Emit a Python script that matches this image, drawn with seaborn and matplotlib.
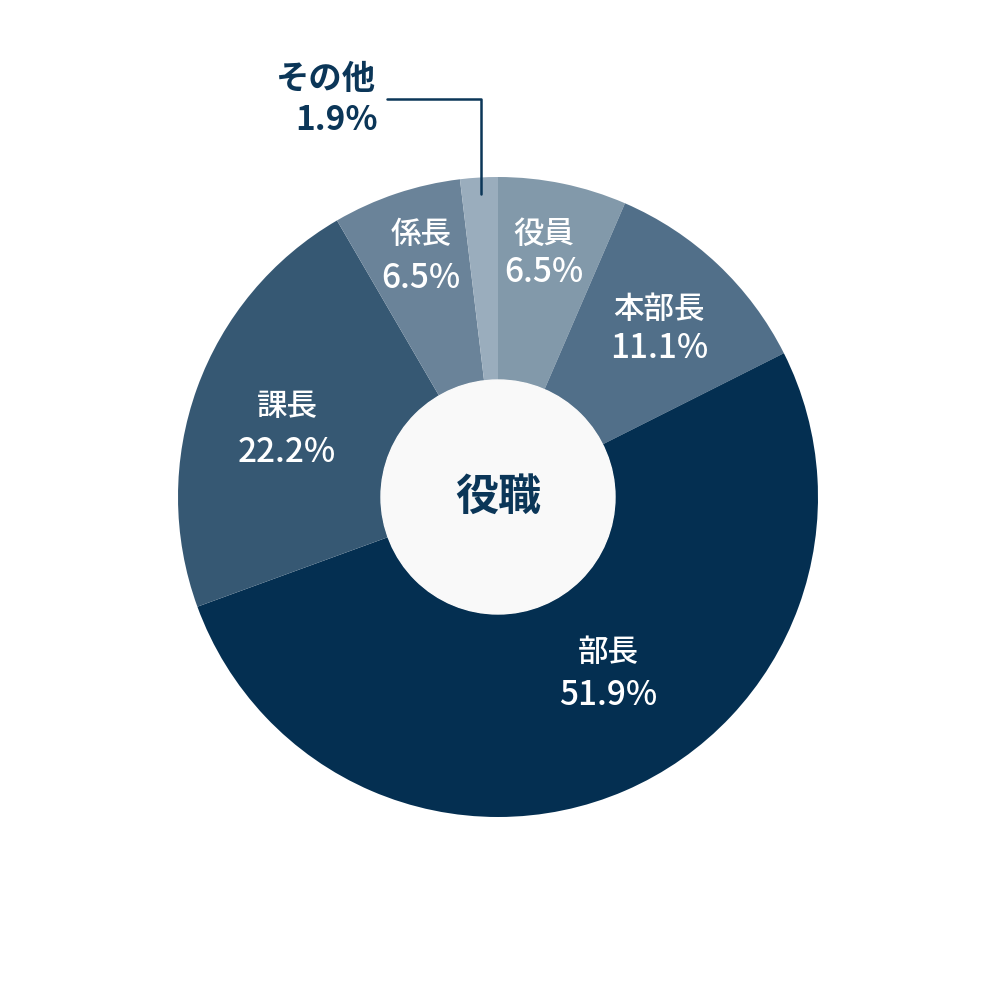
import matplotlib
matplotlib.use("Agg")
import matplotlib.pyplot as plt
import seaborn as sns

sns.set_theme(style="white")
plt.rcParams['font.family'] = ['Noto Sans CJK JP', 'DejaVu Sans']

categories = ['役員', '本部長', '部長', '課長', '係長', 'その他']
shares = [6.5, 11.1, 51.9, 22.2, 6.5, 1.9]
colors = ['#8299aa', '#516f89', '#042f51', '#365873', '#6a8399', '#9aadbd']
# label positions in picture pixels: (x, name y, value y); None -> leader label
label_px = [(544, 234, 272), (659, 309, 349), (608, 652, 695),
            (287, 407, 453), (421, 234, 278), None]

NAVY = '#0b3658'
R = 320.0
CX, CY = 498, 497


def to_data(px, py):
    return (px - CX) / R, (CY - py) / R


fig = plt.figure(figsize=(9.96, 9.96), dpi=100)
ax = fig.add_axes([0, 0, 1, 1])

wedges, _ = ax.pie(shares, colors=colors, startangle=90, counterclock=False,
                   radius=1.0, wedgeprops=dict(width=1 - 117 / R, linewidth=0))
ax.set_xlim(-CX / R, (996 - CX) / R)
ax.set_ylim(-(996 - CY) / R, CY / R)
ax.set_aspect('equal')
ax.axis('off')

# light centre disc
ax.add_patch(plt.Circle((0, 0), 117 / R, color='#f9f9f9', zorder=3))
ax.text(0, 0, '役職', ha='center', va='center', fontsize=31,
        fontweight='bold', color=NAVY, zorder=4)

for name, val, pos in zip(categories, shares, label_px):
    if pos is None:
        continue
    px, ny, vy = pos
    x, y = to_data(px, ny)
    ax.text(x, y, name, ha='center', va='center', fontsize=22,
            fontweight='medium', color='white', zorder=4)
    x, y = to_data(px, vy)
    ax.text(x, y, f'{val}%', ha='center', va='center', fontsize=24,
            fontweight='medium', color='white', zorder=4)

# leader for the small slice
x0, y0 = to_data(481, 194)
x1, y1 = to_data(481, 99)
x2, y2 = to_data(387, 99)
ax.plot([x0, x1, x2], [y0, y1, y2], color=NAVY, lw=1.8, zorder=5)
tx, ty = to_data(376, 80)
ax.text(tx, ty, categories[-1], ha='right', va='center', fontsize=24,
        fontweight='bold', color=NAVY)
tx, ty = to_data(378, 121)
ax.text(tx, ty, f'{shares[-1]}%', ha='right', va='center', fontsize=24,
        fontweight='bold', color=NAVY)

fig.savefig('out.png', dpi=100, facecolor='white')
